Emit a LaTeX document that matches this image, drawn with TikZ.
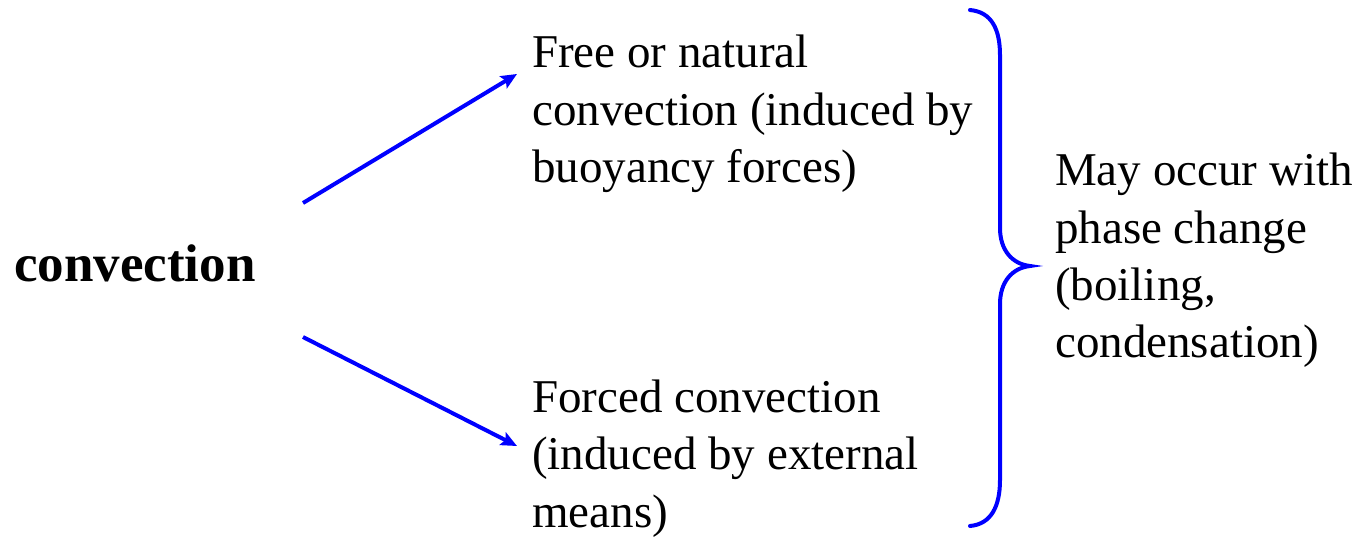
\documentclass[tikz,border=0pt]{standalone}
\usepackage{fontspec}
\setmainfont{Liberation Serif}
\usetikzlibrary{arrows.meta}
\tikzset{
  txt/.style={anchor=base west, inner sep=0pt, align=left, font=\fontsize{47}{57.5}\selectfont},
  arr/.style={draw=blue, line width=4pt, -{Stealth[length=16pt,width=14pt,inset=3pt]}},
  brace/.style={draw=blue, line width=4pt, line cap=round}
}
\begin{document}
\begin{tikzpicture}[x=1pt,y=-1pt]
\useasboundingbox (0,0) rectangle (1366,537);
\node[txt, font=\fontsize{53}{60}\selectfont\bfseries] (conv) at (14,282) {convection};
\node[txt] (free) at (532,183) {Free or natural\\convection (induced by\\buoyancy forces)};
\node[txt] (forced) at (532,527) {Forced convection\\(induced by external\\means)};
\node[txt] (phase) at (1055,358) {May occur with\\phase change\\(boiling,\\condensation)};
\coordinate (a1s) at (303,203);
\coordinate (a1e) at (517,74);
\coordinate (a2s) at (303,337);
\coordinate (a2e) at (517,446);
\draw[arr] (a1s) -- (a1e);
\draw[arr] (a2s) -- (a2e);
\coordinate (bt) at (970,10);
\coordinate (bm) at (1030,266);
\coordinate (bb) at (970,526);
\draw[brace] (bt) .. controls (992,12) and (1000,30) .. (1000,55)
  -- (1000,228) .. controls (1000,250) and (1012,264) .. (bm)
  .. controls (1012,268) and (1000,282) .. (1000,304)
  -- (1000,480) .. controls (1000,505) and (992,524) .. (bb);
\end{tikzpicture}
\end{document}
